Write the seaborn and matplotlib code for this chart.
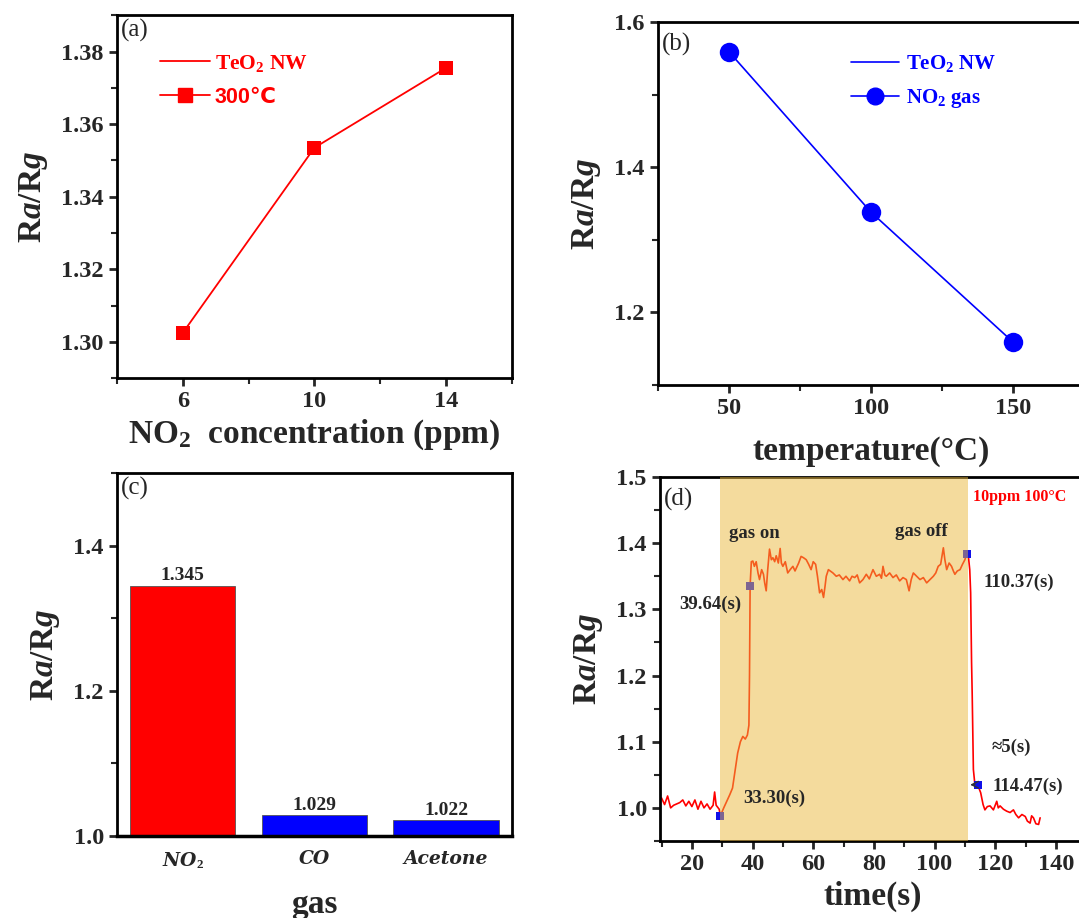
import matplotlib
matplotlib.use('Agg')
import matplotlib.pyplot as plt
import seaborn as sns
from matplotlib.lines import Line2D
from matplotlib.ticker import MultipleLocator, FormatStrFormatter

# (a) response vs NO2 concentration (300 C)
conc_ppm = [6, 10, 14]
resp_conc = [1.3025, 1.3535, 1.3755]

# (b) response vs operating temperature
temp_c = [50, 100, 150]
resp_temp = [1.559, 1.338, 1.159]

# (c) selectivity
gases = ['NO$_\\mathbf{2}$', 'CO', 'Acetone']
resp_gas = [1.345, 1.029, 1.022]
gas_colors = ['#FF0000', '#0000FF', '#0000FF']

# (d) transient response, 10 ppm at 100 C
time_s = [10, 11, 12, 13, 14, 15, 16, 17, 18, 19, 20, 21, 22, 23, 24, 25, 26, 27, 27.5, 28, 29, 29.4,
          30.5, 31.5, 32.5, 33.4, 34.2, 35.1, 36.0, 36.8, 37.6, 38.3, 38.8, 39.0, 39.2, 39.6,
          40.1, 40.6, 41.2, 41.8, 42.3, 43.0, 43.6, 44.0, 44.5, 45.0, 45.6, 46.2, 46.7, 47.3, 47.8,
          48.5, 49.1, 49.5, 50.0, 50.8, 51.6, 52.4, 53.3, 54.0, 54.4, 55.2, 56.0, 56.8, 57.7, 58.5,
          59.3, 60.0, 60.8, 61.4, 62.1, 62.8, 63.4, 63.9, 64.3, 65.0, 65.6, 66.5, 67.6, 68.6, 69.8,
          70.8, 72.0, 72.8, 73.7, 74.5, 75.3, 76.4, 77.5, 78.5, 79.7, 80.8, 81.9, 82.5, 83.0, 83.6,
          84.1, 85.2, 86.3, 87.4, 88.5, 89.6, 90.7, 91.6, 92.3, 93.0, 94.1, 95.2, 96.3, 97.4, 98.5,
          99.6, 100.4, 101.2, 102.0, 102.9, 103.4, 104.0, 104.8, 105.6, 106.2, 106.7, 107.5, 108.4,
          109.2, 110.0, 110.6, 111.2, 111.6, 111.9, 112.2, 112.4, 112.8, 113.3, 114.2, 115.2, 116.0,
          116.6, 117.4, 118.3, 119.4, 120.5, 121.0, 121.6, 122.7, 123.8, 124.9, 126.0, 126.8, 127.7,
          128.8, 129.9, 130.6, 131.5, 132.0, 132.6, 133.4, 134.3, 134.8]
resp_t = [1.015, 1.005, 1.018, 1.000, 1.004, 1.006, 1.008, 1.012, 1.003, 1.010, 1.002, 1.012, 0.998,
          1.010, 1.000, 1.006, 0.998, 1.004, 1.024, 1.004, 0.998, 0.988,
          1.000, 1.010, 1.020, 1.030, 1.055, 1.083, 1.100, 1.108, 1.104, 1.110, 1.125, 1.200, 1.336, 1.372,
          1.373, 1.365, 1.372, 1.355, 1.345, 1.360, 1.353, 1.340, 1.328, 1.360, 1.391, 1.375, 1.378,
          1.372, 1.381, 1.370, 1.392, 1.370, 1.365, 1.372, 1.355, 1.360, 1.365, 1.358, 1.362, 1.370,
          1.380, 1.378, 1.375, 1.368, 1.360, 1.372, 1.368, 1.350, 1.325, 1.330, 1.318, 1.335, 1.350,
          1.360, 1.358, 1.355, 1.350, 1.352, 1.345, 1.350, 1.343, 1.350, 1.348, 1.352, 1.340, 1.345,
          1.353, 1.346, 1.360, 1.350, 1.353, 1.347, 1.365, 1.352, 1.350, 1.355, 1.348, 1.352, 1.343,
          1.348, 1.345, 1.328, 1.345, 1.355, 1.350, 1.345, 1.348, 1.340, 1.345, 1.350, 1.355, 1.365,
          1.368, 1.393, 1.375, 1.360, 1.370, 1.365, 1.358, 1.353, 1.358, 1.360, 1.368, 1.375, 1.384,
          1.378, 1.360, 1.325, 1.220, 1.174, 1.058, 1.035, 1.035, 1.023, 1.005, 0.997, 1.002, 1.003,
          0.997, 1.010, 1.000, 1.003, 0.998, 0.995, 0.993, 0.997, 0.990, 0.985, 0.990, 0.987, 0.980,
          0.977, 0.988, 0.985, 0.976, 0.975, 0.985]
mark_t = [29.3, 39.2, 110.6, 114.2]
mark_r = [0.988, 1.336, 1.384, 1.035]
gas_on, gas_off = 29.3, 111.0

sns.set_theme(style='ticks')
plt.rcParams['font.family'] = ['Liberation Serif', 'DejaVu Serif']
plt.rcParams['font.weight'] = 'bold'
plt.rcParams['axes.labelweight'] = 'bold'
plt.rcParams['mathtext.fontset'] = 'custom'
plt.rcParams['mathtext.rm'] = 'Liberation Serif'
plt.rcParams['mathtext.bf'] = 'Liberation Serif:bold'
plt.rcParams['mathtext.it'] = 'Liberation Serif:italic'
plt.rcParams['mathtext.bfit'] = 'Liberation Serif:bold:italic'

YLAB = r'R$\mathbfit{a}$/R$\mathbfit{g}$'
LABEL_FS = 24
TICK_FS = 17.5

fig = plt.figure(figsize=(10.79, 9.18), dpi=100)
ax_a = fig.add_axes([0.1084, 0.588, 0.366, 0.3954])
ax_b = fig.add_axes([0.6098, 0.5806, 0.395, 0.3954])
ax_c = fig.add_axes([0.1084, 0.0893, 0.366, 0.3954])
ax_d = fig.add_axes([0.6117, 0.0839, 0.395, 0.3965])


def style_axes(ax):
    for s in ax.spines.values():
        s.set_visible(True)
        s.set_linewidth(2)
        s.set_color('black')
    ax.tick_params(which='major', direction='out', length=6, width=2, labelsize=TICK_FS,
                   top=False, right=False)
    ax.tick_params(which='minor', direction='out', length=4, width=1.5, top=False, right=False)
    for lab in ax.get_xticklabels() + ax.get_yticklabels():
        lab.set_fontweight('bold')


# (a)
sns.lineplot(x=conc_ppm, y=resp_conc, ax=ax_a, color='#FF0000', lw=1.3, marker='s',
             markersize=10, markeredgewidth=0)
ax_a.set_xlim(4, 16)
ax_a.set_ylim(1.29, 1.39)
ax_a.set_xticks(conc_ppm)
ax_a.xaxis.set_minor_locator(MultipleLocator(2))
ax_a.yaxis.set_major_locator(MultipleLocator(0.02))
ax_a.yaxis.set_minor_locator(MultipleLocator(0.01))
ax_a.yaxis.set_major_formatter(FormatStrFormatter('%.2f'))
ax_a.set_xlabel('NO$_\\mathbf{2}$  concentration (ppm)', fontsize=LABEL_FS)
ax_a.set_ylabel(YLAB, fontsize=LABEL_FS, labelpad=8)
style_axes(ax_a)
ax_a.text(0.01, 0.99, '(a)', transform=ax_a.transAxes, fontsize=18, fontweight='normal',
          va='top', ha='left')
h_a = [Line2D([], [], color='#FF0000', lw=1.3),
       Line2D([], [], color='#FF0000', lw=1.3, marker='s', markersize=10)]
leg = ax_a.legend(h_a, ['TeO$_\\mathbf{2}$ NW', '300\u2103'], loc='upper left',
                  bbox_to_anchor=(0.06, 0.95), frameon=False, fontsize=15.5, handlelength=2.3,
                  handletextpad=0.25, labelspacing=0.6)
for t in leg.get_texts():
    t.set_color('#FF0000')
    t.set_fontweight('bold')
leg.get_texts()[1].set_family(['Liberation Sans', 'DejaVu Sans'])

# (b)
sns.lineplot(x=temp_c, y=resp_temp, ax=ax_b, color='#0000FF', lw=1.2, marker='o',
             markersize=14, markeredgewidth=0)
ax_b.set_xlim(25, 175)
ax_b.set_ylim(1.1, 1.6)
ax_b.set_xticks(temp_c)
ax_b.xaxis.set_minor_locator(MultipleLocator(25))
ax_b.yaxis.set_major_locator(MultipleLocator(0.2))
ax_b.yaxis.set_minor_locator(MultipleLocator(0.1))
ax_b.yaxis.set_major_formatter(FormatStrFormatter('%.1f'))
ax_b.set_xlabel('temperature(\u00b0C)', fontsize=LABEL_FS, labelpad=12)
ax_b.set_ylabel(YLAB, fontsize=LABEL_FS, labelpad=8)
style_axes(ax_b)
ax_b.text(0.01, 0.97, '(b)', transform=ax_b.transAxes, fontsize=18, fontweight='normal',
          va='top', ha='left')
h_b = [Line2D([], [], color='#0000FF', lw=1.2),
       Line2D([], [], color='#0000FF', lw=1.2, marker='o', markersize=12)]
leg = ax_b.legend(h_b, ['TeO$_\\mathbf{2}$ NW', 'NO$_\\mathbf{2}$ gas'], loc='upper left',
                  bbox_to_anchor=(0.41, 0.965), frameon=False, fontsize=15, handlelength=2.3,
                  handletextpad=0.3, labelspacing=0.6)
for t in leg.get_texts():
    t.set_color('#0000FF')
    t.set_fontweight('bold')

# (c)
sns.barplot(x=gases, y=resp_gas, hue=gases, palette=gas_colors, legend=False, ax=ax_c,
            width=0.8, edgecolor='#555555', linewidth=0.6, saturation=1)
for cont, v in zip(ax_c.containers, resp_gas):
    ax_c.bar_label(cont, labels=[f'{v:.3f}'], padding=1, fontsize=14, fontweight='bold')
ax_c.set_xlim(-0.5, 2.5)
ax_c.set_ylim(1.0, 1.5)
ax_c.yaxis.set_major_locator(MultipleLocator(0.2))
ax_c.yaxis.set_minor_locator(MultipleLocator(0.1))
ax_c.yaxis.set_major_formatter(FormatStrFormatter('%.1f'))
ax_c.set_xlabel('gas', fontsize=LABEL_FS, labelpad=13)
ax_c.set_ylabel(YLAB, fontsize=LABEL_FS, labelpad=8)
style_axes(ax_c)
ax_c.spines['bottom'].set_linewidth(2.5)
ax_c.tick_params(axis='x', length=0, pad=10)
for lab in ax_c.get_xticklabels():
    lab.set_fontstyle('italic')
    lab.set_family(['DejaVu Serif'])
    lab.set_fontsize(13.5)
ax_c.text(0.01, 0.99, '(c)', transform=ax_c.transAxes, fontsize=18, fontweight='normal',
          va='top', ha='left')

# (d)
sns.lineplot(x=time_s, y=resp_t, ax=ax_d, color='#FF0000', lw=1.2, zorder=2)
sns.scatterplot(x=mark_t, y=mark_r, ax=ax_d, marker='s', color='#1010E8', s=40,
                linewidth=0, zorder=2.5)
ax_d.axvspan(gas_on, gas_off, color='#EBB83D', alpha=0.5, lw=0, zorder=3)
ax_d.set_xlim(9.5, 150)
ax_d.set_ylim(0.95, 1.5)
ax_d.xaxis.set_major_locator(MultipleLocator(20))
ax_d.xaxis.set_minor_locator(MultipleLocator(10))
ax_d.yaxis.set_major_locator(MultipleLocator(0.1))
ax_d.yaxis.set_minor_locator(MultipleLocator(0.05))
ax_d.yaxis.set_major_formatter(FormatStrFormatter('%.1f'))
ax_d.set_xlabel('time(s)', fontsize=LABEL_FS, labelpad=4)
ax_d.set_ylabel(YLAB, fontsize=LABEL_FS, labelpad=8)
style_axes(ax_d)
ax_d.text(0.01, 0.97, '(d)', transform=ax_d.transAxes, fontsize=18, fontweight='normal',
          va='top', ha='left', zorder=5)
note_kw = dict(fontsize=13.5, fontweight='bold', va='center', ha='left', zorder=5)
ax_d.text(32.2, 1.415, 'gas on', **note_kw)
ax_d.text(87.1, 1.418, 'gas off', **note_kw)
ax_d.text(16.0, 1.308, '39.64(s)', **note_kw)
ax_d.text(36.9, 1.015, '33.30(s)', **note_kw)
ax_d.text(116.2, 1.341, '110.37(s)', **note_kw)
ax_d.text(118.9, 1.092, '\u22485(s)', **note_kw)
ax_d.text(119.0, 1.033, '114.47(s)', **note_kw)
ax_d.text(112.8, 1.47, '10ppm 100\u00b0C', fontsize=11.5, fontweight='bold', color='#FF0000',
          va='center', ha='left', zorder=5)
ax_d.annotate('', xy=(110.8, 1.035), xytext=(114.2, 1.035), zorder=5,
              arrowprops=dict(arrowstyle='->', color='#333333', lw=1))

fig.savefig('out.png', dpi=100)
